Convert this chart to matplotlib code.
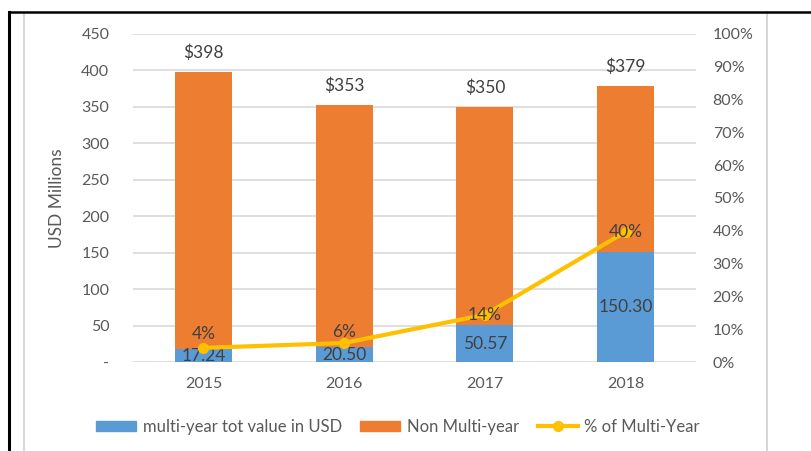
import matplotlib
matplotlib.use("Agg")
import matplotlib.pyplot as plt
from matplotlib.lines import Line2D
import numpy as np

plt.rcParams['font.family'] = ['Lato', 'DejaVu Sans']

years = ['2015', '2016', '2017', '2018']
multi_year = [17.24, 20.50, 50.57, 150.30]
totals = [398, 353, 350, 379]
pct_multi = [0.043, 0.058, 0.144, 0.397]
non_multi = [t - m for t, m in zip(totals, multi_year)]

blue = '#5B9BD5'
orange = '#ED7D31'
gold = '#FFC000'
txt = '#595959'
grid = '#D9D9D9'

fig = plt.figure(figsize=(8.12, 4.51), dpi=100)
ax = fig.add_axes([133/812, 1-362/451, (696-133)/812, (362-34)/451])
ax2 = ax.twinx()

x = np.arange(len(years))
b1 = ax.bar(x, multi_year, width=0.405, color=blue, zorder=2)
b2 = ax.bar(x, non_multi, bottom=multi_year, width=0.405, color=orange, zorder=2)

ax.set_xlim(-0.5, 3.5)
ax.set_ylim(0, 450)
ax.set_yticks(np.arange(0, 451, 50))
ax.set_yticklabels(['-'] + [str(v) for v in range(50, 451, 50)])
ax.grid(axis='y', color=grid, lw=1.2, zorder=0)
ax.set_axisbelow(True)
ax.set_xticks(x)
ax.set_xticklabels(years)
ax.tick_params(axis='both', length=0, colors=txt, labelsize=11.5)
ax.tick_params(axis='y', pad=17)
ax.tick_params(axis='x', pad=11)
for s in ax.spines.values():
    s.set_visible(False)
ax.set_ylabel('USD Millions', color=txt, fontsize=12.5, labelpad=12)

# bar labels
for i in range(len(years)):
    ax.text(x[i], multi_year[i] / 2, f'{multi_year[i]:.2f}', ha='center', va='center',
            color='#404040', fontsize=12.5, zorder=5)
    ax.text(x[i], totals[i] + 15, f'${totals[i]}', ha='center', va='bottom',
            color='#404040', fontsize=12.5, zorder=5)

ax2.set_ylim(0, 1)
ax2.set_yticks(np.arange(0, 1.01, 0.1))
ax2.set_yticklabels([f'{int(round(v*100))}%' for v in np.arange(0, 1.01, 0.1)])
ax2.tick_params(axis='y', length=0, colors=txt, labelsize=11.5, pad=12)
for s in ax2.spines.values():
    s.set_visible(False)
ax2.plot(x, pct_multi, color=gold, lw=3, marker='o', markersize=7, zorder=3)

offsets = [10, 8, 0, 0]
for i in range(len(years)):
    ax2.annotate(f'{pct_multi[i]:.0%}', (x[i], pct_multi[i]), xytext=(0, offsets[i]),
                 textcoords='offset points', ha='center', va='center',
                 color='#404040', fontsize=12.5, zorder=6)

handles = [
    plt.Rectangle((0, 0), 1, 1, color=blue),
    plt.Rectangle((0, 0), 1, 1, color=orange),
    Line2D([0], [0], color=gold, lw=3, marker='o', markersize=7),
]
fig.legend(handles, ['multi-year tot value in USD', 'Non Multi-year', '% of Multi-Year'],
           loc='center', bbox_to_anchor=(398/812, 1-427/451), ncol=3, frameon=False,
           fontsize=12, labelcolor=txt, handlelength=2.4, handleheight=0.6,
           columnspacing=1.1, handletextpad=0.4)

# frame lines
fig.add_artist(Line2D([24/812, 24/812], [0, 1-12/451], color='#D0D0D0', lw=1.2))
fig.add_artist(Line2D([767/812, 767/812], [0, 1-12/451], color='#D0D0D0', lw=1.2))
fig.add_artist(Line2D([9/812, 1], [1-12/451, 1-12/451], color='black', lw=1.8))
fig.add_artist(Line2D([9/812, 9/812], [0, 1-12/451], color='black', lw=2.2))

fig.savefig('out.png', dpi=100)
